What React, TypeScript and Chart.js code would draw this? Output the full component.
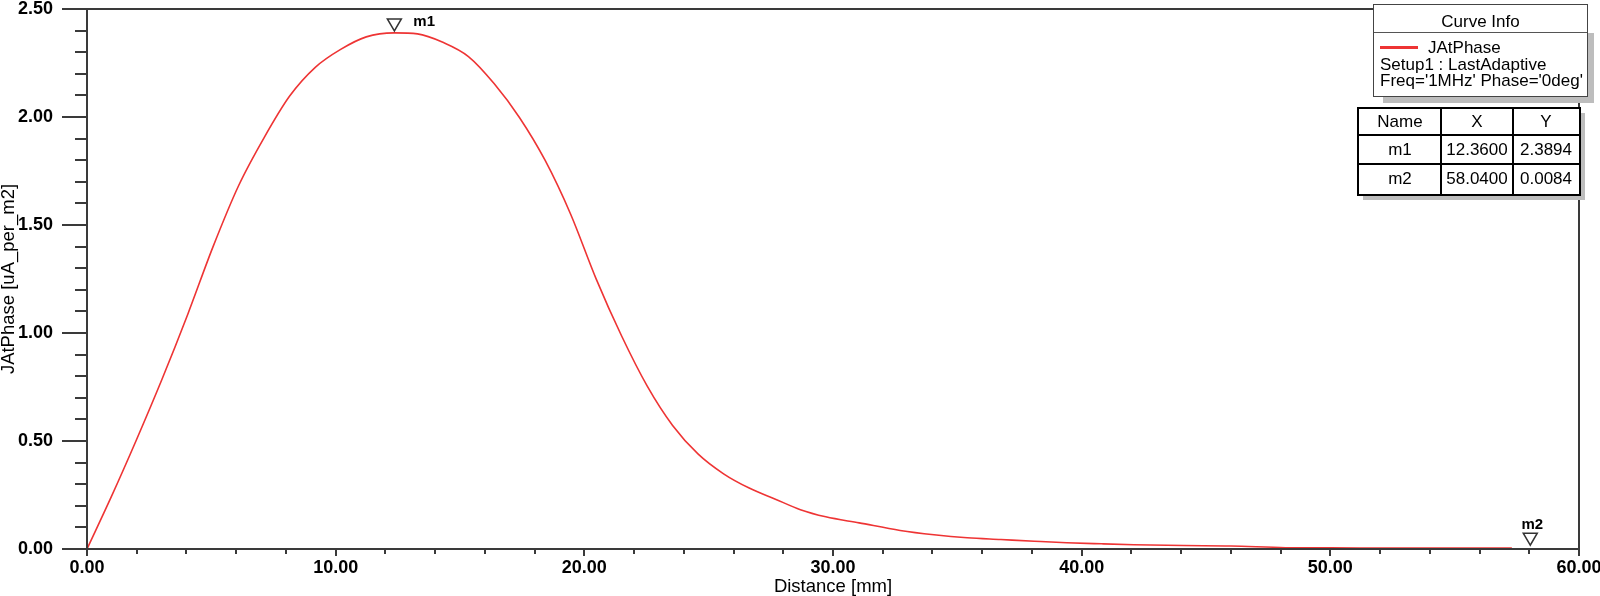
import React, { useEffect, useRef } from "react";
import { Chart, registerables } from "chart.js";
Chart.register(...registerables);

// ---- data ----
const distanceMm = [0, 0.97, 1.99, 3.02, 4.05, 5.07, 6.1, 7.13, 8.15, 9.18, 10.2, 11.23, 12.36, 13.29, 14.31, 15.34, 16.37, 17.39, 18.42, 19.45, 20.47, 21.5, 22.53, 23.55, 24.58, 25.6, 26.63, 27.66, 28.69, 29.71, 31.05, 32.7, 34.06, 35.4, 36.75, 38.1, 39.4, 40.8, 42.1, 44.1, 46.0, 48.2, 50, 54, 57.3];
const jAtPhase = [0, 0.24, 0.506, 0.787, 1.086, 1.4, 1.683, 1.906, 2.097, 2.23, 2.313, 2.371, 2.3894, 2.385, 2.346, 2.28, 2.155, 1.998, 1.8, 1.55, 1.252, 0.986, 0.754, 0.572, 0.439, 0.348, 0.282, 0.232, 0.182, 0.149, 0.121, 0.086, 0.066, 0.052, 0.044, 0.036, 0.029, 0.024, 0.02, 0.016, 0.014, 0.006, 0.005, 0.004, 0.004];

const markerNames = ["m1", "m2"];
const markerX = [12.36, 58.04];
const markerY = [2.3894, 0.0084];
const markerXText = ["12.3600", "58.0400"];
const markerYText = ["2.3894", "0.0084"];

const seriesName = "JAtPhase";
const legendTitle = "Curve Info";
const legendLines = ["Setup1 : LastAdaptive", "Freq='1MHz' Phase='0deg'"];
const tableHeaders = ["Name", "X", "Y"];

const xTitle = "Distance [mm]";
const yTitle = "JAtPhase [uA_per_m2]";
const xMin = 0, xMax = 60, xMajor = 10, xMinor = 2;
const yMin = 0, yMax = 2.5, yMajor = 0.5, yMinor = 0.1;

const FONT = "'Liberation Sans', Arial, sans-serif";
const AXIS = "#3a3a3a";
const RED = "rgb(238,52,52)";

const axisPlugin = {
  id: "hfssAxes",
  afterDatasetsDraw(chart: any) {
    const { ctx, chartArea: a, scales } = chart;
    const x = scales.x, y = scales.y;
    ctx.save();
    ctx.strokeStyle = AXIS;
    ctx.lineWidth = 2;
    ctx.beginPath();
    ctx.rect(a.left, a.top, a.right - a.left, a.bottom - a.top);
    const ny = Math.round((yMax - yMin) / yMinor);
    const perY = Math.round(yMajor / yMinor);
    for (let i = 0; i <= ny; i++) {
      const py = Math.round(y.getPixelForValue(yMin + i * yMinor));
      const len = i % perY === 0 ? 25 : 12;
      ctx.moveTo(a.left - len, py);
      ctx.lineTo(a.left, py);
    }
    const nx = Math.round((xMax - xMin) / xMinor);
    const perX = Math.round(xMajor / xMinor);
    for (let i = 0; i <= nx; i++) {
      const px = Math.round(x.getPixelForValue(xMin + i * xMinor));
      const len = i % perX === 0 ? 7 : 5;
      ctx.moveTo(px, a.bottom);
      ctx.lineTo(px, a.bottom + len);
    }
    ctx.stroke();

    // markers
    for (let i = 0; i < markerNames.length; i++) {
      const px = x.getPixelForValue(markerX[i]);
      const py = y.getPixelForValue(markerY[i]) - 2;
      ctx.beginPath();
      ctx.moveTo(px, py);
      ctx.lineTo(px - 7, py - 12);
      ctx.lineTo(px + 7, py - 12);
      ctx.closePath();
      ctx.fillStyle = "rgba(255,255,255,0.6)";
      ctx.fill();
      ctx.lineWidth = 1.5;
      ctx.strokeStyle = "#333";
      ctx.stroke();
      ctx.fillStyle = "#000";
      ctx.font = `bold 15px ${FONT}`;
      ctx.textBaseline = "middle";
      if (i === 0) {
        ctx.textAlign = "left";
        ctx.fillText(markerNames[i], px + 19, py - 9);
      } else {
        ctx.textAlign = "center";
        ctx.fillText(markerNames[i], px + 2, py - 20);
      }
    }
    ctx.restore();
  },
};

function Legend() {
  const txt: React.CSSProperties = { position: "absolute", fontFamily: FONT, fontSize: 17, color: "#000", whiteSpace: "nowrap", lineHeight: "17px" };
  return (
    <>
      <div style={{ position: "absolute", left: 1588, top: 33, width: 6, height: 70, background: "#bdbdbd" }} />
      <div style={{ position: "absolute", left: 1383, top: 97, width: 211, height: 6, background: "#bdbdbd" }} />
      <div style={{ position: "absolute", left: 1373, top: 4, width: 213, height: 91, border: "1px solid #444", background: "#fff" }}>
        <div style={{ position: "absolute", left: 0, top: 27, width: 213, height: 1, background: "#555" }} />
        <div style={{ ...txt, left: 0, width: 213, textAlign: "center", top: 8 }}>{legendTitle}</div>
        <div style={{ position: "absolute", left: 6, top: 41, width: 38, height: 3, background: RED }} />
        <div style={{ ...txt, left: 54, top: 34 }}>{seriesName}</div>
        <div style={{ ...txt, left: 6, top: 51 }}>{legendLines[0]}</div>
        <div style={{ ...txt, left: 6, top: 67 }}>{legendLines[1]}</div>
      </div>
    </>
  );
}

function MarkerTable() {
  const cols = [0, 82, 154, 220];
  const rows = [0, 26, 55, 85];
  const cells: any[] = [];
  const rowsData = [tableHeaders, ...markerNames.map((n, i) => [n, markerXText[i], markerYText[i]])];
  rowsData.forEach((r, ri) => {
    r.forEach((t, ci) => {
      cells.push(
        <div key={ri + "-" + ci} style={{ position: "absolute", left: cols[ci], width: cols[ci + 1] - cols[ci], top: rows[ri], height: rows[ri + 1] - rows[ri], display: "flex", alignItems: "center", justifyContent: "center", fontFamily: FONT, fontSize: 17, color: "#000" }}>{t}</div>
      );
    });
  });
  const lines: any[] = [];
  [1, 2].forEach((c) => lines.push(<div key={"c" + c} style={{ position: "absolute", left: cols[c] - 1, top: 0, width: 2, height: 85, background: "#000" }} />));
  [1, 2].forEach((r) => lines.push(<div key={"r" + r} style={{ position: "absolute", left: 0, top: rows[r] - 1, width: 220, height: 2, background: "#000" }} />));
  return (
    <>
      <div style={{ position: "absolute", left: 1580, top: 113, width: 5, height: 87, background: "#bdbdbd" }} />
      <div style={{ position: "absolute", left: 1363, top: 194, width: 222, height: 6, background: "#bdbdbd" }} />
      <div style={{ position: "absolute", left: 1357, top: 107, width: 224, height: 89, boxSizing: "border-box", border: "2px solid #000", background: "#fff" }}>
        <div style={{ position: "absolute", left: 0, top: 0, width: 220, height: 85 }}>
          {lines}
          {cells}
        </div>
      </div>
    </>
  );
}

export default function App() {
  const ref = useRef<HTMLCanvasElement>(null);
  useEffect(() => {
    if (!ref.current) return;
    const chart = new Chart(ref.current, {
      type: "line",
      data: {
        datasets: [
          {
            label: seriesName,
            data: distanceMm.map((d, i) => ({ x: d, y: jAtPhase[i] })),
            borderColor: RED,
            borderWidth: 1.6,
            pointRadius: 0,
            fill: false,
            cubicInterpolationMode: "monotone",
          },
        ],
      },
      options: {
        animation: false,
        responsive: false,
        devicePixelRatio: 1,
        layout: { padding: { left: 0, top: 9, right: 21, bottom: 0 } },
        plugins: { legend: { display: false }, tooltip: { enabled: false } },
        scales: {
          x: {
            type: "linear",
            min: xMin,
            max: xMax,
            grid: { display: false, drawTicks: false },
            border: { display: false },
            ticks: {
              stepSize: xMajor,
              autoSkip: false,
              maxRotation: 0,
              padding: 8,
              color: "#000",
              font: { family: FONT, size: 18, weight: "bold" },
              callback: (v: any) => Number(v).toFixed(2),
            },
            title: { display: true, text: xTitle, color: "#000", font: { family: FONT, size: 18.5, lineHeight: 1 }, padding: { top: 0, bottom: 0 } },
            afterFit: (s: any) => { s.height = 47; s.paddingLeft = 0; s.paddingRight = 0; },
          },
          y: {
            type: "linear",
            min: yMin,
            max: yMax,
            grid: { display: false, drawTicks: false },
            border: { display: false },
            ticks: {
              stepSize: yMajor,
              padding: 34,
              color: "#000",
              font: { family: FONT, size: 18, weight: "bold" },
              callback: (v: any) => Number(v).toFixed(2),
            },
            title: { display: true, text: yTitle, color: "#000", font: { family: FONT, size: 18.5, lineHeight: 1 }, padding: { top: 0, bottom: 0 } },
            afterFit: (s: any) => { s.width = 87; s.paddingTop = 0; s.paddingBottom = 0; },
          },
        },
      },
      plugins: [axisPlugin],
    } as any);
    return () => chart.destroy();
  }, []);
  return (
    <div style={{ position: "fixed", left: 0, top: 0, width: 1600, height: 596, background: "#fff", overflow: "hidden" }}>
      <canvas ref={ref} width={1600} height={596} style={{ position: "absolute", left: 0, top: 0, width: 1600, height: 596 }} />
      <Legend />
      <MarkerTable />
    </div>
  );
}
